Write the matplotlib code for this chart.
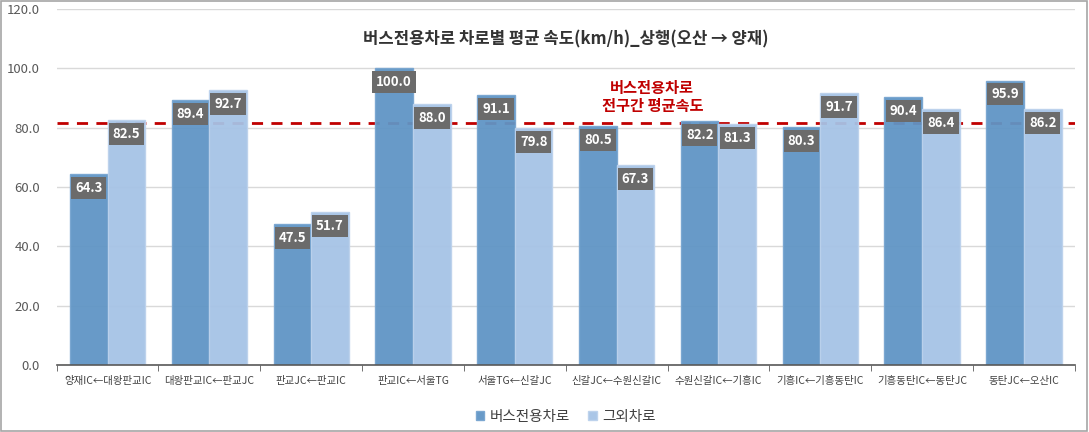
import numpy as np
import matplotlib
matplotlib.use("Agg")
from matplotlib import pyplot as plt
from matplotlib.patches import Rectangle

plt.rcParams['font.family'] = ['Noto Sans CJK KR', 'DejaVu Sans']

categories = ['양재IC←대왕판교IC', '대왕판교IC←판교JC', '판교JC←판교IC', '판교IC←서울TG',
              '서울TG←신갈JC', '신갈JC←수원신갈IC', '수원신갈IC←기흥IC', '기흥IC←기흥동탄IC',
              '기흥동탄IC←동탄JC', '동탄JC←오산IC']
bus_lane = [64.3, 89.4, 47.5, 100.0, 91.1, 80.5, 82.2, 80.3, 90.4, 95.9]
other_lane = [82.5, 92.7, 51.7, 88.0, 79.8, 67.3, 81.3, 91.7, 86.4, 86.2]
bus_avg = 81.6

title = '버스전용차로 차로별 평균 속도(km/h)_상행(오산 → 양재)'

fig = plt.figure(figsize=(10.89, 4.32), dpi=100)
fig.patches.append(Rectangle((0.001, 0.002), 0.997, 0.995, transform=fig.transFigure,
                             fill=False, edgecolor='#a6a6a6', linewidth=1.2))
ax = fig.add_axes([0.052, 0.155, 0.935, 0.824])

x = np.arange(len(categories))
w = 0.37
b1 = ax.bar(x - w / 2, bus_lane, w, color='#6095c5', edgecolor='#78a5d0', linewidth=1,
            alpha=0.95, zorder=3, label='버스전용차로')
b2 = ax.bar(x + w / 2, other_lane, w, color='#a6c3e6', edgecolor='#bcd2ec', linewidth=1,
            alpha=0.95, zorder=3, label='그외차로')

# 평균속도 점선
ax.axhline(bus_avg, color='#c00000', linestyle=(0, (4, 3)), linewidth=2, zorder=2)
ax.text(5.35, 90.5, '버스전용차로\n전구간 평균속도', color='#c00000', fontsize=11,
        fontweight='bold', ha='center', va='center', linespacing=1.15, zorder=5)

for bars, vals in ((b1, bus_lane), (b2, other_lane)):
    for bar, v in zip(bars, vals):
        ax.annotate(f'{v:.1f}', (bar.get_x() + bar.get_width() / 2, v),
                    xytext=(0, -10), textcoords='offset points', ha='center', va='center',
                    color='white', fontsize=9.5, fontweight='bold', zorder=6,
                    bbox=dict(boxstyle='square,pad=0.3', fc='#6b6b6b', ec='none'))

ax.text(0.5, 0.915, title, transform=ax.transAxes, ha='center', va='center',
        fontsize=12, fontweight='bold', color='#333333')

ax.set_xlim(-0.5, len(categories) - 0.5)
ax.set_ylim(0, 120)
ax.set_yticks(np.arange(0, 121, 20))
ax.set_yticklabels([f'{t:.1f}' for t in np.arange(0, 121, 20)])
ax.set_xticks(x)
ax.set_xticklabels(categories, fontsize=7.5, color='#404040')
ax.set_xticks(np.arange(-0.5, len(categories), 1), minor=True)
ax.tick_params(axis='x', which='major', length=0, pad=8)
ax.tick_params(axis='x', which='minor', length=4, color='#595959')
ax.tick_params(axis='y', length=0, labelsize=9.5, colors='#595959', pad=12)
ax.grid(axis='y', color='#d9d9d9', linewidth=1, zorder=0)
for s in ('top', 'right', 'left'):
    ax.spines[s].set_visible(False)
ax.spines['bottom'].set_color('#595959')
ax.spines['bottom'].set_linewidth(1.2)
ax.spines['bottom'].set_zorder(4)

ax.legend(loc='center', bbox_to_anchor=(0.5, -0.145), ncol=2, frameon=False,
          fontsize=10.5, handlelength=0.6, handleheight=0.6, handletextpad=0.4,
          columnspacing=1.2, labelcolor='#404040')

fig.savefig('out.png', dpi=100)
